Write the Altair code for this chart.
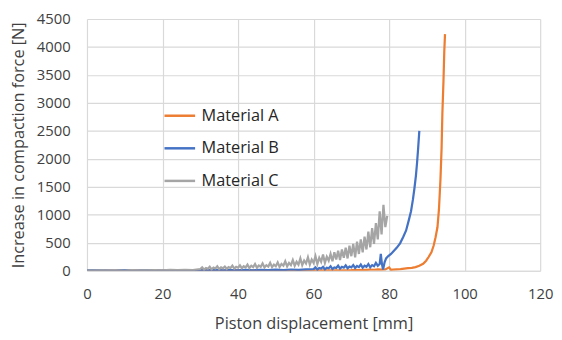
import altair as alt
import pandas as pd

# Material A (orange)
a_x = [0, 5, 10, 15, 20, 25, 30, 35, 40, 45, 50, 55, 60, 65, 70, 71, 72, 73, 74, 75, 76, 77, 78, 79, 80,
       80.5, 81, 82, 83, 84, 85, 86, 87, 88, 89, 89.8, 90.5, 91.2, 91.8, 92.3, 92.8, 93.2, 93.6, 93.9, 94.1,
       94.4, 94.6, 94.8]
a_y = [0, 2, 3, 2, 4, 3, 5, 4, 6, 5, 6, 7, 8, 8, 10, 15, 12, 18, 15, 20, 18, 25, 20, 22, 60,
       15, 20, 25, 30, 38, 45, 52, 65, 90, 125, 180, 250, 330, 450, 600, 776, 1100, 1640, 2200, 2800,
       3400, 3900, 4230]

# Material B (blue)
b_x_low = list(range(0, 60, 2))
b_y_low = [10, 5, 8, 3, 6, 12, 4, 7, 5, 9, 3, 8, 6, 10, 5, 12, 7, 15, 6, 10, 8, 14, 9, 18, 10, 20, 12, 22, 15, 25]
b_x_mid = [60 + 0.5 * i for i in range(36)]
b_y_mid = [30, 60, 20, 50, 40, 70, 25, 55, 45, 80, 30, 60, 50, 90, 40, 70, 55, 95, 45, 75,
           60, 100, 50, 85, 65, 110, 55, 90, 70, 120, 60, 100, 80, 140, 90, 120]
b_x_high = [77.8, 78.1, 78.4, 78.8, 79.2, 79.7, 80.5, 81.1, 82, 82.9, 83.7, 84.5, 85.2, 85.8, 86.3, 86.7,
            87.1, 87.4, 87.7, 88.0]
b_y_high = [300, 120, 20, 150, 220, 257, 300, 343, 410, 490, 600, 720, 900, 1065, 1270, 1470,
            1700, 1930, 2200, 2500]

# Material C (gray)
c_x_low = list(range(0, 30, 2))
c_y_low = [5, 3, 8, 2, 6, 4, 10, 5, 8, 12, 6, 15, 10, 18, 12]
c_x_high = [30 + 0.5 * i for i in range(100)]
c_y_high = [30, 60, 20, 50, 35, 70, 25, 55, 40, 80, 30, 60, 45, 75, 35, 65, 50, 90, 40, 70,
            55, 95, 45, 80, 60, 110, 50, 90, 65, 120, 55, 95, 70, 130, 60, 100, 75, 140, 65, 110,
            80, 150, 70, 120, 90, 170, 80, 140, 100, 190, 90, 160, 110, 220, 100, 180, 130, 240, 110, 200,
            140, 260, 120, 230, 160, 290, 140, 250, 180, 300,
            170, 330, 200, 360, 190, 380, 230, 410, 220, 450,
            260, 480, 240, 520, 300, 560, 330, 610, 380, 700,
            420, 760, 480, 850, 560, 1060, 650, 1180, 780, 980]

series = ["Material A", "Material B", "Material C"]
colors = ["#ED7D31", "#4472C4", "#A5A5A5"]

rows = []
for x, y in zip(a_x, a_y):
    rows.append({"x": x, "y": y, "s": series[0]})
for x, y in zip(b_x_low + b_x_mid + b_x_high, b_y_low + b_y_mid + b_y_high):
    rows.append({"x": x, "y": y, "s": series[1]})
for x, y in zip(c_x_low + c_x_high, c_y_low + c_y_high):
    rows.append({"x": x, "y": y, "s": series[2]})
df = pd.DataFrame(rows)

font = "Open Sans"
chart = alt.Chart(df).mark_line(strokeWidth=2.25, clip=True).encode(
    x=alt.X("x:Q", scale=alt.Scale(domain=[0, 120], nice=False),
            axis=alt.Axis(title="Piston displacement [mm]", values=[0, 20, 40, 60, 80, 100, 120])),
    y=alt.Y("y:Q", scale=alt.Scale(domain=[0, 4500], nice=False),
            axis=alt.Axis(title="Increase in compaction force [N]", format="d",
                          values=list(range(0, 4501, 500)))),
    color=alt.Color("s:N", scale=alt.Scale(domain=series, range=colors),
                    legend=alt.Legend(title=None, orient="none", legendX=77, legendY=81,
                                      symbolType="stroke", symbolSize=961, symbolStrokeWidth=2.5,
                                      labelFontSize=16.5, labelFont=font, labelColor="#262626",
                                      rowPadding=7, labelOffset=5)),
    order=alt.Order("x:Q"),
).properties(
    width=459, height=255,
    autosize=alt.AutoSizeParams(type="none"),
    padding={"left": 80, "top": 9, "right": 14, "bottom": 66},
).configure_axis(
    grid=True, gridColor="#D9D9D9", gridWidth=1.2,
    domain=False, ticks=False, labelFlush=False,
    labelFont=font, labelFontSize=15, labelColor="#404040",
    titleFont=font, titleFontSize=16.5, titleColor="#404040", titleFontWeight="normal",
).configure_axisX(
    domain=True, domainColor="#D9D9D9", labelPadding=16, titlePadding=14,
).configure_axisY(
    labelPadding=17, titlePadding=10,
).configure_view(stroke=None)

chart.save("out.html", embed_options={"renderer": "svg", "actions": False})
